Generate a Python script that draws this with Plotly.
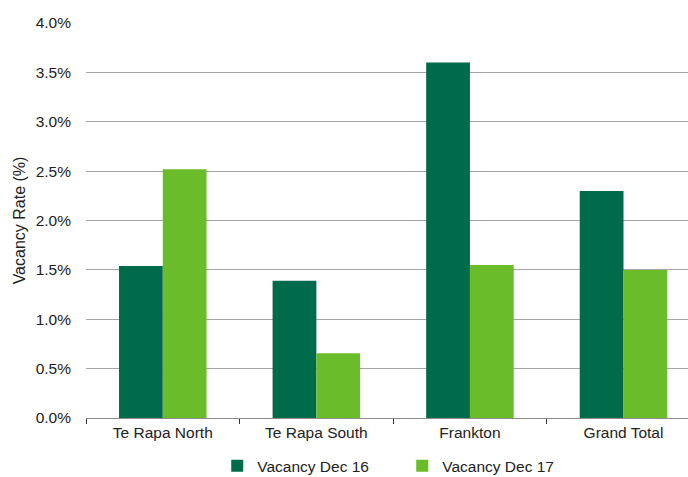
import plotly.graph_objects as go

categories = ["Te Rapa North", "Te Rapa South", "Frankton", "Grand Total"]
vacancy_dec16 = [1.54, 1.39, 3.60, 2.30]
vacancy_dec17 = [2.52, 0.655, 1.55, 1.50]
series_names = ["Vacancy Dec 16", "Vacancy Dec 17"]
y_ticks = [0, 0.5, 1.0, 1.5, 2.0, 2.5, 3.0, 3.5, 4.0]
y_tick_text = ["0.0%", "0.5%", "1.0%", "1.5%", "2.0%", "2.5%", "3.0%", "3.5%", "4.0%"]

DARK = "#006B4B"
LIGHT = "#6BBC2A"
FONT = "Liberation Sans, Arial, sans-serif"
FS = 15.5

fig = go.Figure()
fig.add_trace(go.Bar(x=categories, y=vacancy_dec16, name=series_names[0],
                     marker=dict(color=DARK, line=dict(width=0))))
fig.add_trace(go.Bar(x=categories, y=vacancy_dec17, name=series_names[1],
                     marker=dict(color=LIGHT, line=dict(width=0))))

fig.update_layout(
    width=688, height=477,
    margin=dict(l=86, r=0, t=22.5, b=59.3, pad=0, autoexpand=False),
    paper_bgcolor="white", plot_bgcolor="white",
    barmode="group", bargap=0.43, bargroupgap=0,
    font=dict(family=FONT, size=FS, color="#222222"),
    showlegend=True,
    legend=dict(orientation="h", x=0.218, xanchor="left", y=-0.122, yanchor="middle",
                font=dict(size=FS, color="#222222"), itemwidth=30,
                entrywidth=140, entrywidthmode="pixels",
                bgcolor="rgba(0,0,0,0)"),
    xaxis=dict(type="category", range=[-0.5, 3.42], showgrid=False,
               showline=True, linecolor="#8C8C8C", linewidth=1,
               ticks="outside", tickson="boundaries", ticklen=5, tickcolor="#333333",
               tickfont=dict(size=FS, color="#222222")),
    yaxis=dict(range=[0, 4], tickvals=y_ticks, ticktext=y_tick_text,
               showgrid=True, gridcolor="#A6A6A6", gridwidth=1,
               zeroline=False, showline=False, ticks="",
               ticklabelstandoff=14,
               tickfont=dict(size=FS, color="#222222"),
               title=dict(text="Vacancy Rate (%)", standoff=6,
                          font=dict(size=16, color="#222222"))),
)

fig.write_html("out.html")
